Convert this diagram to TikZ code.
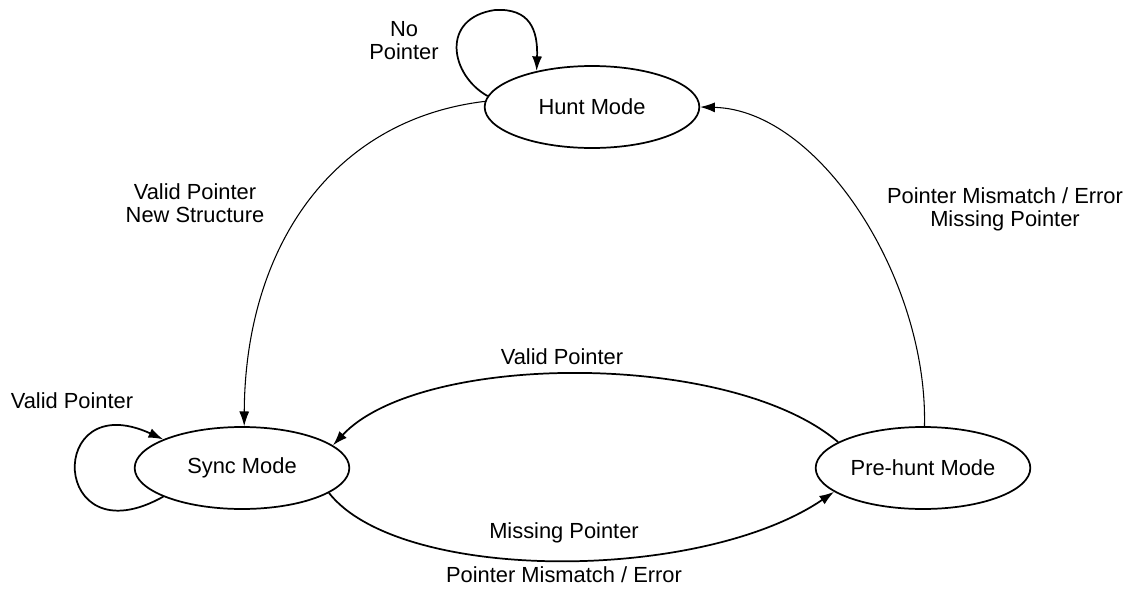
\documentclass[tikz,border=0pt]{standalone}
\usepackage{fontspec}
\setmainfont{Liberation Sans}
\usetikzlibrary{arrows.meta, shapes.geometric}
\tikzset{
  every picture/.style={font=\fontsize{16.4}{17.3}\selectfont, line width=1.3pt},
  state/.style={draw, ellipse, inner sep=0pt, minimum width=161pt, minimum height=61.5pt},
  arrow/.style={-{Latex[length=11pt, width=7.5pt]}, line width=1.3pt},
  thinarrow/.style={arrow, line width=0.8pt},
  lbl/.style={align=center, inner sep=0pt},
}

\begin{document}
\begin{tikzpicture}[x=0.75pt, y=-0.75pt]
  \useasboundingbox (0,0) rectangle (1139,589);
  % states
  \node[state] (hunt) at (592,107) {Hunt Mode};
  \node[state] (sync) at (242,468) {Sync Mode};
  \node[state] (prehunt) at (923,468) {Pre-hunt Mode};
  % transitions
  \draw[arrow] (hunt.174) .. controls (450,75) and (440,18) .. (495,10)
    .. controls (530,8) and (538,30) .. (hunt.147);
  \draw[arrow] (sync.200) .. controls (50,560) and (45,385) .. (sync.160);
  \draw[thinarrow] (hunt.177) .. controls (330,120) and (245,250) .. (sync.87);
  \draw[thinarrow] (prehunt.88) .. controls (928,280) and (820,110) .. (hunt.east);
  \draw[arrow] (prehunt.163) .. controls (730,350) and (420,352) .. (sync.14);
  \draw[arrow] (sync.344) .. controls (400,583) and (700,583) .. (prehunt.195);
  % labels
  \node[lbl] (lnoptr) at (404,41) {No\\Pointer};
  \node[lbl] (lnew) at (195,203) {Valid Pointer\\New Structure};
  \node[lbl] (lmis) at (1005,209) {Pointer Mismatch / Error\\Missing Pointer};
  \node[lbl] (lself) at (72,401) {Valid Pointer};
  \node[lbl] (lback) at (562,357) {Valid Pointer};
  \node[lbl] (lmiss) at (564,533) {Missing Pointer};
  \node[lbl] (lerr) at (564,575) {Pointer Mismatch / Error};
\end{tikzpicture}
\end{document}
